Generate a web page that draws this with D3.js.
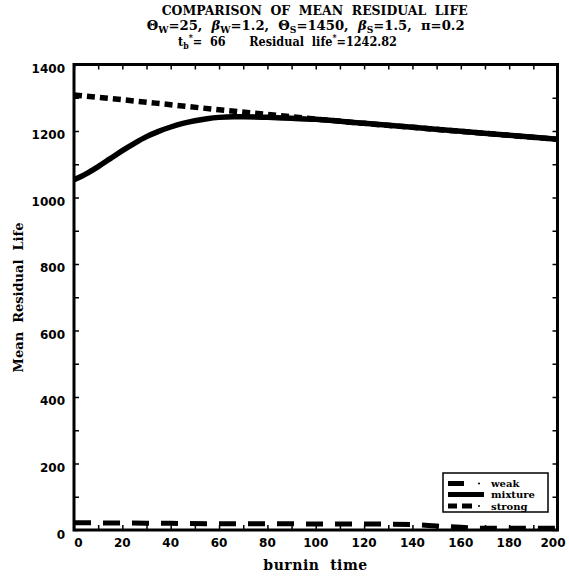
<!DOCTYPE html>
<html><head><meta charset="utf-8">
<script src="https://d3js.org/d3.v7.min.js"></script>
<style>body{margin:0;background:#fff}svg{display:block}text{white-space:pre}</style>
</head><body>
<svg id="chart" width="569" height="576"></svg>
<script>
// ---- data ----
const mixtureT = [0,5,10,15,20,25,30,35,40,45,50,55,60,66,70,80,90,100,120,140,160,180,200];
const mixtureV = [1053,1071,1093,1117,1141,1163,1183,1199,1212,1223,1231,1237,1241,1243,1243,1241,1238,1235,1223,1211,1199,1187,1175];
const strongT = [0,20,40,60,80,100,120,140,160,180,200];
const strongV = [1308,1294,1279,1264,1250,1236,1223,1211,1199,1187,1175];
const weakT = [0,20,40,60,80,100,120,140,150,160,170,180,200];
const weakV = [22,21,20,19,19,18,18,16,12,8,5,5,5];
const xTickLabels = [0,20,40,60,80,100,120,140,160,180,200];
const yTickLabels = [0,200,400,600,800,1000,1200,1400];
const legendNames = ["weak","mixture","strong"];

const svg = d3.select("#chart");
const L = 74, R = 557.5, T = 64.5, B = 530;
const x = d3.scaleLinear().domain([0,200]).range([L,R]);
const y = d3.scaleLinear().domain([0,1400]).range([B,T]);
const sans = "DejaVu Sans", serif = "DejaVu Serif";

function fit(sel, x0, w){
  const bb = sel.node().getBBox();
  sel.attr("transform", `translate(${x0},0) scale(${w/bb.width},1) translate(${-bb.x},0)`);
}

// ---- lines ----
const line = (ts, vs) => d3.line().x((d,i)=>x(ts[i])).y(d=>y(d)).curve(d3.curveMonotoneX)(vs);
const g = svg.append("g");
g.append("path").attr("d", line(weakT, weakV)).attr("fill","none").attr("stroke","#000")
  .attr("stroke-width",5).attr("stroke-dasharray","17,12");
g.append("path").attr("d", line(mixtureT, mixtureV)).attr("fill","none").attr("stroke","#000")
  .attr("stroke-width",5.5);
g.append("path").attr("d", line(strongT, strongV)).attr("fill","none").attr("stroke","#000")
  .attr("stroke-width",5.5).attr("stroke-dasharray","8,5");

// ---- axes (ticks inside, all four sides) ----
const xt = d3.range(0,201,10), yt = d3.range(0,1401,100);
svg.append("g").attr("transform",`translate(0,${B})`).call(d3.axisTop(x).tickValues(xt).tickSize(5).tickFormat("")).call(a=>a.select(".domain").remove());
svg.append("g").attr("transform",`translate(0,${T})`).call(d3.axisBottom(x).tickValues(xt).tickSize(5).tickFormat("")).call(a=>a.select(".domain").remove());
svg.append("g").attr("transform",`translate(${L},0)`).call(d3.axisRight(y).tickValues(yt).tickSize(5).tickFormat("")).call(a=>a.select(".domain").remove());
svg.append("g").attr("transform",`translate(${R},0)`).call(d3.axisLeft(y).tickValues(yt).tickSize(5).tickFormat("")).call(a=>a.select(".domain").remove());
svg.selectAll(".tick line").attr("stroke","#000").attr("stroke-width",1.5);

svg.append("rect").attr("x",L).attr("y",T).attr("width",R-L).attr("height",B-T)
  .attr("fill","none").attr("stroke","#000").attr("stroke-width",3);

// tick labels
svg.append("g").selectAll("text").data(xTickLabels).join("text")
  .attr("x", d => d===0 ? x(d)+4.5 : d===200 ? x(d)-4.5 : x(d)).attr("y",547)
  .attr("text-anchor","middle").attr("font-family",sans).attr("font-weight","bold").attr("font-size",12)
  .text(d=>d);
svg.append("g").selectAll("text").data(yTickLabels).join("text")
  .attr("x",65).attr("y", d => y(d)+ (d===0?9:8))
  .attr("text-anchor","end").attr("font-family",sans).attr("font-weight","bold").attr("font-size",12)
  .text(d=>d);

// axis titles
svg.append("text").attr("transform","translate(23,297.5) rotate(-90)").attr("text-anchor","middle")
  .attr("font-family",serif).attr("font-weight","bold").attr("font-size",13).text("Mean  Residual  Life");
svg.append("text").attr("x",315.5).attr("y",570).attr("text-anchor","middle")
  .attr("font-family",serif).attr("font-weight","bold").attr("font-size",14).attr("letter-spacing",0.5).text("burnin  time");

// titles
const t1 = svg.append("text").attr("y",15).attr("font-family",serif).attr("font-weight","bold").attr("font-size",13)
  .text("COMPARISON  OF  MEAN  RESIDUAL  LIFE");
fit(t1,161.7,306.6);
const t2 = svg.append("text").attr("y",30.5).attr("font-family",serif).attr("font-weight","bold").attr("font-size",13);
const parts2 = [["Θ",0],["W",1],["=25,  ",0],["β",2],["W",1],["=1.2,  ",0],["Θ",0],["S",1],["=1450,  ",0],["β",2],["S",1],["=1.5,  ",0],["π=0.2",0]];
parts2.forEach(([s,k],i)=>{
  const ts = t2.append("tspan").text(s);
  if(k===1) ts.attr("font-size",9);
  if(k===2) ts.attr("font-style","italic");
  const prev = i>0 ? parts2[i-1][1] : 0;
  let dy = 0;
  if(k===1 && prev!==1) dy = 3;
  if(k!==1 && prev===1) dy = -3;
  ts.attr("dy", dy);
});
fit(t2,146.7,318.3);
const t3 = svg.append("text").attr("y",46.5).attr("font-family",serif).attr("font-weight","bold").attr("font-size",13);
t3.append("tspan").text("t");
t3.append("tspan").attr("font-size",9).attr("dy",3).text("b");
t3.append("tspan").attr("font-size",9).attr("dy",-8).text("*");
t3.append("tspan").attr("dy",5).text("=  66      Residual  life");
t3.append("tspan").attr("font-size",9).attr("dy",-5).text("*");
t3.append("tspan").attr("dy",5).text("=1242.82");
fit(t3,178,219);

// legend
const lg = svg.append("g");
lg.append("rect").attr("x",443).attr("y",473).attr("width",105).attr("height",39)
  .attr("fill","#fff").attr("stroke","#000").attr("stroke-width",1.5);
const rows = [483.5, 494.5, 506];
const sampleSegs = [[[448,464],[478,480]], [[448,484]], [[448,457],[462,472],[478,480]]];
legendNames.forEach((n,i)=>{
  sampleSegs[i].forEach(([a,b])=>{
    lg.append("line").attr("x1",a).attr("x2",b).attr("y1",rows[i]).attr("y2",rows[i])
      .attr("stroke","#000").attr("stroke-width", (b-a)<=2 ? 1.5 : 5);
  });
  lg.append("text").attr("x",491).attr("y",rows[i]+3.5).attr("font-family",serif).attr("font-weight","bold")
    .attr("font-size",10).text(n);
});
</script>
</body></html>
